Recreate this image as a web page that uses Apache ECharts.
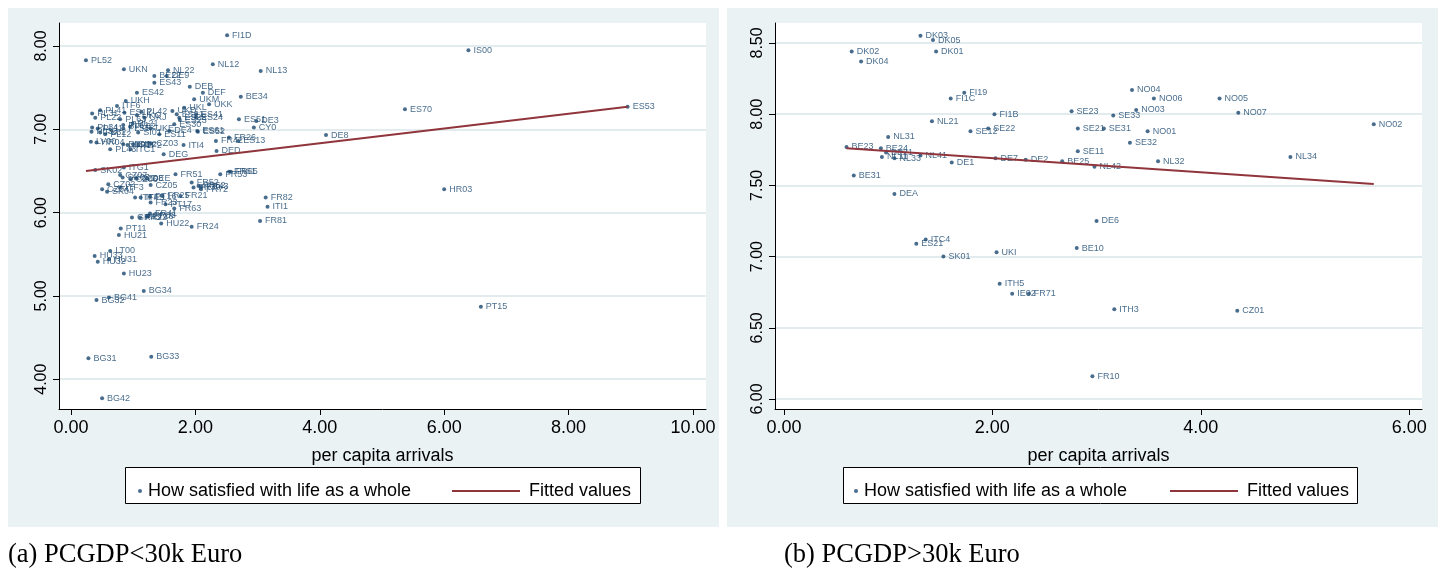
<!DOCTYPE html>
<html><head><meta charset="utf-8">
<script src="https://cdn.jsdelivr.net/npm/echarts@6/dist/echarts.min.js"></script>
<style>html,body{margin:0;padding:0;background:#fff}#c{width:1446px;height:571px}</style>
</head><body><div id="c"></div>
<script>
// ---------- Panel (a): PCGDP<30k Euro ----------
const leftNames = ['FI1D','IS00','PL52','UKN','NL22','BE22','DE9','NL12','NL13','ES43','DEB','DEF','ES42','UKM','BE34','UKH','UKK','ITF6','UKL','ES70','ES53','PL41','PL31','PL22','ES12','PL42','UKG','PL63','UKJ','UKD','ES21','ES22','ES23','ES41','ES24','ES30','ES51','DE3','CY0','UKE','PL21','PL61','PL62','PL11','PL34','PL33','PL32','PL12','PL51','LV00','HR04','SI01','DE4','ES61','ES52','ES11','FR26','ES13','FR42','DE8','ITI4','CZ03','DED','DEG','PL43','ITC1','EE00','ITF1','SI02','ITF2',
'SK02','ITG1','CZ07','SK03','CZ06','CZ08','DEE','CZ05','CZ02','CZ04','SK04','ITF3','FR51','FR53','FR61','FR65','FR52','FR62','FR43','FR30','FR72','FR21','FR25','ITF4','ITF5','PT16','FR23','PT17','FR63','FR82','ITI1','FR81','FR41','GR43','FR22','PT18','FR83','HU22','FR24','PT11','HU21','LT00','HU33','HU31','HU32','HU23','BG34','BG41','BG32','BG31','BG33','BG42','PT15','HR03'];
const leftX = [2.51,6.39,0.24,0.85,1.56,1.34,1.54,2.28,3.05,1.34,1.91,2.12,1.06,1.98,2.73,0.88,2.22,0.74,1.82,5.37,8.95,0.47,0.34,0.39,0.86,1.13,1.06,0.79,1.18,1.63,1.70,1.74,1.75,2.01,2.01,1.66,2.70,2.98,2.94,1.28,0.99,0.84,0.95,0.43,0.34,0.33,0.47,0.55,0.84,0.32,0.41,1.08,1.58,2.03,2.04,1.42,2.54,2.69,2.33,4.10,1.81,1.29,2.34,1.49,0.63,0.96,0.84,0.91,1.00,1.08,
0.39,0.85,0.79,0.83,0.96,1.05,1.22,1.28,0.60,0.50,0.58,0.79,1.68,2.40,2.54,2.57,1.94,2.05,2.10,1.97,2.09,1.76,1.47,1.03,1.12,1.27,1.28,1.52,1.66,3.13,3.16,3.04,1.27,0.98,1.11,1.22,1.25,1.45,1.94,0.80,0.77,0.63,0.38,0.61,0.43,0.85,1.17,0.61,0.41,0.28,1.29,0.50,6.59,6.00];
const leftY = [8.13,7.95,7.83,7.72,7.71,7.64,7.64,7.78,7.70,7.56,7.51,7.44,7.44,7.36,7.39,7.34,7.30,7.28,7.26,7.24,7.27,7.23,7.19,7.14,7.20,7.21,7.17,7.12,7.14,7.22,7.18,7.14,7.11,7.18,7.14,7.06,7.12,7.10,7.02,7.01,7.07,7.05,7.03,7.01,7.02,6.97,6.96,6.94,7.01,6.85,6.84,6.96,6.98,6.98,6.97,6.94,6.90,6.86,6.86,6.93,6.81,6.83,6.74,6.70,6.76,6.76,6.82,6.81,6.82,6.81,
6.51,6.54,6.45,6.42,6.40,6.41,6.41,6.33,6.34,6.28,6.25,6.30,6.46,6.46,6.49,6.49,6.36,6.32,6.31,6.30,6.28,6.20,6.20,6.18,6.18,6.19,6.12,6.10,6.05,6.18,6.07,5.90,5.99,5.94,5.94,5.95,5.96,5.87,5.83,5.81,5.73,5.54,5.48,5.44,5.41,5.27,5.06,4.98,4.95,4.25,4.27,3.77,4.87,6.28];
const leftFitX = [0.24, 8.95];
const leftFitY = [6.50, 7.27];
const leftXTicks = [0, 2, 4, 6, 8, 10];
const leftYTicks = [4, 5, 6, 7, 8];

// ---------- Panel (b): PCGDP>30k Euro ----------
const rightNames = ['DK03','DK05','DK02','DK01','DK04','FI19','FI1C','FI1B','SE23','NL21','SE22','SE12','SE21','NL31','BE23','BE24','BE21','NL11','NL33','NL41','DE1','DE7','DE2','BE25','SE11','BE31','DEA','NO04','NO06','NO05','NO03','SE33','NO07','NO02','SE31','NO01','SE32','NL32','NL34','NL42','DE6','ITC4','ES21','SK01','UKI','BE10','ITH5','IE02','FR71','ITH3','FR10','CZ01'];
const rightX = [1.31,1.43,0.65,1.46,0.74,1.73,1.60,2.02,2.76,1.42,1.96,1.79,2.82,1.00,0.60,0.93,0.98,0.94,1.06,1.31,1.61,2.03,2.32,2.67,2.82,0.67,1.06,3.34,3.55,4.18,3.38,3.16,4.36,5.66,3.07,3.49,3.32,3.59,4.86,2.98,3.00,1.36,1.27,1.53,2.04,2.81,2.07,2.19,2.35,3.17,2.96,4.35];
const rightY = [8.55,8.52,8.44,8.44,8.37,8.15,8.11,8.00,8.02,7.95,7.90,7.88,7.90,7.84,7.77,7.76,7.73,7.70,7.69,7.71,7.66,7.69,7.68,7.67,7.74,7.57,7.44,8.17,8.11,8.11,8.03,7.99,8.01,7.93,7.90,7.88,7.80,7.67,7.70,7.63,7.25,7.12,7.09,7.00,7.03,7.06,6.81,6.74,6.74,6.63,6.16,6.62];
const rightFitX = [0.60, 5.66];
const rightFitY = [7.76, 7.51];
const rightXTicks = [0, 2, 4, 6];
const rightYTicks = [6, 6.5, 7, 7.5, 8, 8.5];

const seriesScatterName = 'How satisfied with life as a whole';
const seriesFitName = 'Fitted values';
const captions = ['(a) PCGDP<30k Euro', '(b) PCGDP>30k Euro'];
const xTitle = 'per capita arrivals';

const NAVY = '#1a476f', MAROON = '#90353b', PANEL = '#eaf2f3', GRIDC = '#e2ebed';
const SANS = '"Liberation Sans", Arial, sans-serif';

function pts(xs, ys, names) { return xs.map((x, i) => names ? {name: names[i], value: [x, ys[i]]} : [x, ys[i]]); }
const fmt = v => v.toFixed(2);

function xAxisCfg(gi, min, max, ticks) {
  return {
    type: 'value', gridIndex: gi, min: min, max: max,
    name: xTitle, nameLocation: 'middle', nameGap: 38,
    nameTextStyle: {fontSize: 18, color: '#000', fontFamily: SANS},
    axisLine: {show: true, onZero: false, lineStyle: {color: '#000', width: 1}},
    axisTick: {show: true, length: 6, customValues: ticks, lineStyle: {color: '#000'}},
    axisLabel: {customValues: ticks, formatter: fmt, fontSize: 18, color: '#000', fontFamily: SANS, margin: 10},
    splitLine: {show: false}
  };
}
function yAxisCfg(gi, min, max, ticks) {
  return {
    type: 'value', gridIndex: gi, min: min, max: max,
    axisLine: {show: true, onZero: false, lineStyle: {color: '#000', width: 1}},
    axisTick: {show: true, length: 6, customValues: ticks, lineStyle: {color: '#000'}},
    axisLabel: {customValues: ticks, formatter: fmt, rotate: 90, fontSize: 16, color: '#000', fontFamily: SANS, margin: 9},
    splitLine: {show: true, lineStyle: {color: GRIDC, width: 2}}
  };
}
function scatterCfg(gi, xs, ys, names) {
  return {
    name: seriesScatterName, type: 'scatter', xAxisIndex: gi, yAxisIndex: gi,
    symbol: 'circle', symbolSize: 4, itemStyle: {color: NAVY},
    data: pts(xs, ys, names),
    label: {show: true, position: 'right', distance: 3, formatter: p => p.name,
      fontSize: 9, color: NAVY, fontFamily: SANS},
    emphasis: {disabled: true}
  };
}
function fitCfg(gi, xs, ys) {
  return {
    name: seriesFitName, type: 'line', xAxisIndex: gi, yAxisIndex: gi,
    symbol: 'none', showSymbol: false, lineStyle: {color: MAROON, width: 2}, itemStyle: {color: MAROON},
    data: pts(xs, ys), z: 3
  };
}
function legendPair(boxLeft) {
  return [
    {data: [{name: seriesScatterName, icon: 'circle'}], left: boxLeft + 8, top: 477,
     itemWidth: 4, itemHeight: 4, selectedMode: false,
     textStyle: {fontSize: 18, color: '#000', fontFamily: SANS, padding: [0, 0, 0, 1]}},
    {data: [{name: seriesFitName, icon: 'rect'}], left: boxLeft + 322, top: 477,
     itemWidth: 68, itemHeight: 2, selectedMode: false,
     textStyle: {fontSize: 18, color: '#000', fontFamily: SANS, padding: [0, 0, 0, 4]}}
  ];
}

const chart = echarts.init(document.getElementById('c'), null, {renderer: 'canvas'});
chart.setOption({
  animation: false,
  backgroundColor: '#fff',
  grid: [
    {left: 59, top: 23, width: 647, height: 386, show: true, backgroundColor: '#fff', borderWidth: 0, containLabel: false},
    {left: 775, top: 23, width: 647, height: 386, show: true, backgroundColor: '#fff', borderWidth: 0, containLabel: false}
  ],
  xAxis: [xAxisCfg(0, -0.193, 10.21, leftXTicks), xAxisCfg(1, -0.086, 6.123, rightXTicks)],
  yAxis: [yAxisCfg(0, 3.642, 8.276, leftYTicks), yAxisCfg(1, 5.93, 8.64, rightYTicks)],
  legend: [
    {data: [{name: seriesScatterName, icon: 'circle'}], left: 133, top: 477, itemWidth: 4, itemHeight: 4, selectedMode: false,
     textStyle: {fontSize: 18, color: '#000', fontFamily: SANS, padding: [0, 0, 0, 1]}},
    {data: [{name: seriesFitName, icon: 'rect'}], left: 447, top: 477, itemWidth: 68, itemHeight: 2, selectedMode: false,
     textStyle: {fontSize: 18, color: '#000', fontFamily: SANS, padding: [0, 0, 0, 4]}},
    {data: [{name: seriesScatterName, icon: 'circle'}], left: 849, top: 477, itemWidth: 4, itemHeight: 4, selectedMode: false,
     textStyle: {fontSize: 18, color: '#000', fontFamily: SANS, padding: [0, 0, 0, 1]}},
    {data: [{name: seriesFitName, icon: 'rect'}], left: 1165, top: 477, itemWidth: 68, itemHeight: 2, selectedMode: false,
     textStyle: {fontSize: 18, color: '#000', fontFamily: SANS, padding: [0, 0, 0, 4]}}
  ],
  graphic: [
    {type: 'rect', z: -10, shape: {x: 8, y: 8, width: 711, height: 519}, style: {fill: PANEL}},
    {type: 'rect', z: -10, shape: {x: 727, y: 8, width: 711, height: 519}, style: {fill: PANEL}},
    {type: 'rect', z: -5, shape: {x: 125.5, y: 467.5, width: 515, height: 36}, style: {fill: '#fff', stroke: '#000', lineWidth: 1}},
    {type: 'rect', z: -5, shape: {x: 843.5, y: 467.5, width: 514, height: 36}, style: {fill: '#fff', stroke: '#000', lineWidth: 1}},
    {type: 'text', left: 8, top: 542, style: {text: captions[0], font: '26.5px "Liberation Serif", "Times New Roman", serif', fill: '#000'}},
    {type: 'text', left: 784, top: 542, style: {text: captions[1], font: '26.5px "Liberation Serif", "Times New Roman", serif', fill: '#000'}}
  ],
  series: [
    scatterCfg(0, leftX, leftY, leftNames),
    fitCfg(0, leftFitX, leftFitY),
    scatterCfg(1, rightX, rightY, rightNames),
    fitCfg(1, rightFitX, rightFitY)
  ]
});
</script></body></html>
